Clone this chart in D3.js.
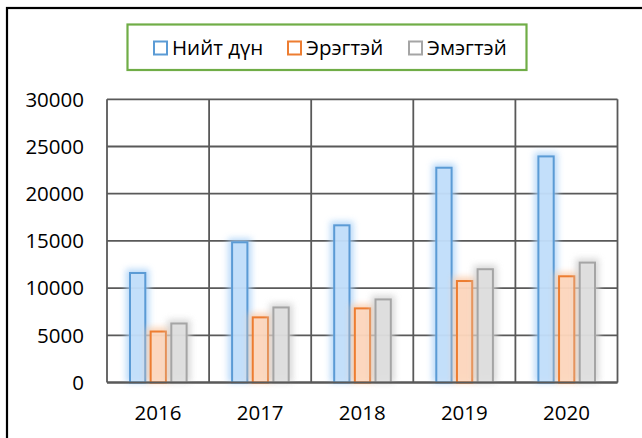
<!DOCTYPE html>
<html><head><meta charset="utf-8">
<script src="https://cdn.jsdelivr.net/npm/d3@7"></script>
<style>html,body{margin:0;padding:0;background:#fff;overflow:hidden}</style>
</head><body>
<svg id="chart" width="642" height="438"></svg>
<script>
const years = ["2016","2017","2018","2019","2020"];
const seriesNames = ["Нийт дүн","Эрэгтэй","Эмэгтэй"];
const total = [11600, 14850, 16650, 22750, 23950];
const male = [5400, 6900, 7850, 10750, 11250];
const female = [6250, 7950, 8800, 12000, 12700];
const yTicks = [0,5000,10000,15000,20000,25000,30000];

const strokeCols = ["#5b9bd5","#ed7d31","#a5a5a5"];
const fillCols = ["#c6e0fa","#fcd8c0","#e0e0e0"];
const glowCols = ["#a9d0f7","#f9c9a6","#cfcfcf"];
const values = [total, male, female];

const svg = d3.select("#chart");
const font = "'Open Sans', sans-serif";

// outer border
svg.append("rect").attr("x",7).attr("y",8).attr("width",650).attr("height",450)
  .attr("fill","none").attr("stroke","#000").attr("stroke-width",2.2);

const L=107, R=617.5, T=99.3, B=382.5;
const x = d3.scaleBand().domain(years).range([L,R]).paddingInner(0).paddingOuter(0);
const xi = d3.scaleBand().domain(d3.range(3)).range([23, x.bandwidth()-22.5]).paddingInner(0.26).paddingOuter(0);
const y = d3.scaleLinear().domain([0,30000]).range([B,T]);

const defs = svg.append("defs");
strokeCols.forEach((c,i)=>{
  const f = defs.append("filter").attr("id","glow"+i).attr("x","-100%").attr("y","-20%").attr("width","300%").attr("height","140%");
  f.append("feGaussianBlur").attr("in","SourceGraphic").attr("stdDeviation",3);
});

// gridlines
const g = svg.append("g");
g.selectAll("line.h").data(yTicks).join("line")
  .attr("x1",L).attr("x2",R).attr("y1",d=>y(d)).attr("y2",d=>y(d))
  .attr("stroke","#595959").attr("stroke-width",1.8);
const vlines = years.map(d=>x(d)).concat([R]);
g.selectAll("line.v").data(vlines).join("line")
  .attr("x1",d=>d).attr("x2",d=>d).attr("y1",T).attr("y2",B)
  .attr("stroke","#595959").attr("stroke-width",1.8);

// bars
values.forEach((vals,si)=>{
  const bg = svg.append("g");
  bg.selectAll("rect.glow").data(vals).join("rect")
    .attr("x",(d,i)=>x(years[i])+xi(si)-4).attr("y",d=>y(d)-4)
    .attr("width",xi.bandwidth()+8).attr("height",d=>B-y(d)+4)
    .attr("fill",glowCols[si]).attr("opacity",0.8).attr("filter","url(#glow"+si+")");
  bg.selectAll("rect.bar").data(vals).join("rect")
    .attr("x",(d,i)=>x(years[i])+xi(si)).attr("y",d=>y(d))
    .attr("width",xi.bandwidth()).attr("height",d=>B-y(d))
    .attr("fill",fillCols[si]).attr("fill-opacity",0.8)
    .attr("stroke",strokeCols[si]).attr("stroke-width",2);
});

svg.append("line").attr("x1",L).attr("x2",R).attr("y1",B).attr("y2",B).attr("stroke","#595959").attr("stroke-width",1.8);

// y labels
svg.append("g").selectAll("text").data(yTicks).join("text")
  .attr("x",84).attr("y",d=>y(d)).attr("dy","0.36em").attr("text-anchor","end")
  .attr("font-family",font).attr("font-size",20.5).attr("fill","#000").text(d=>d);

// x labels
svg.append("g").selectAll("text").data(years).join("text")
  .attr("x",d=>x(d)+x.bandwidth()/2).attr("y",413).attr("dy","0.36em").attr("text-anchor","middle")
  .attr("font-family",font).attr("font-size",20.5).attr("fill","#000").text(d=>d);

// legend
svg.append("rect").attr("x",127.5).attr("y",24.5).attr("width",399).attr("height",45.5)
  .attr("fill","#fff").attr("stroke","#70ad47").attr("stroke-width",2.2);
const legX = [154, 288, 409];
const lg = svg.append("g").selectAll("g").data(seriesNames).join("g")
  .attr("transform",(d,i)=>`translate(${legX[i]},48)`);
lg.append("rect").attr("x",0).attr("y",-6.5).attr("width",13).attr("height",13)
  .attr("fill","#fff").attr("stroke",(d,i)=>strokeCols[i]).attr("stroke-width",2);
lg.append("text").attr("x",18).attr("y",0).attr("dy","0.36em")
  .attr("font-family",font).attr("font-size",20.5).attr("fill","#000").text(d=>d);
</script>
</body></html>
